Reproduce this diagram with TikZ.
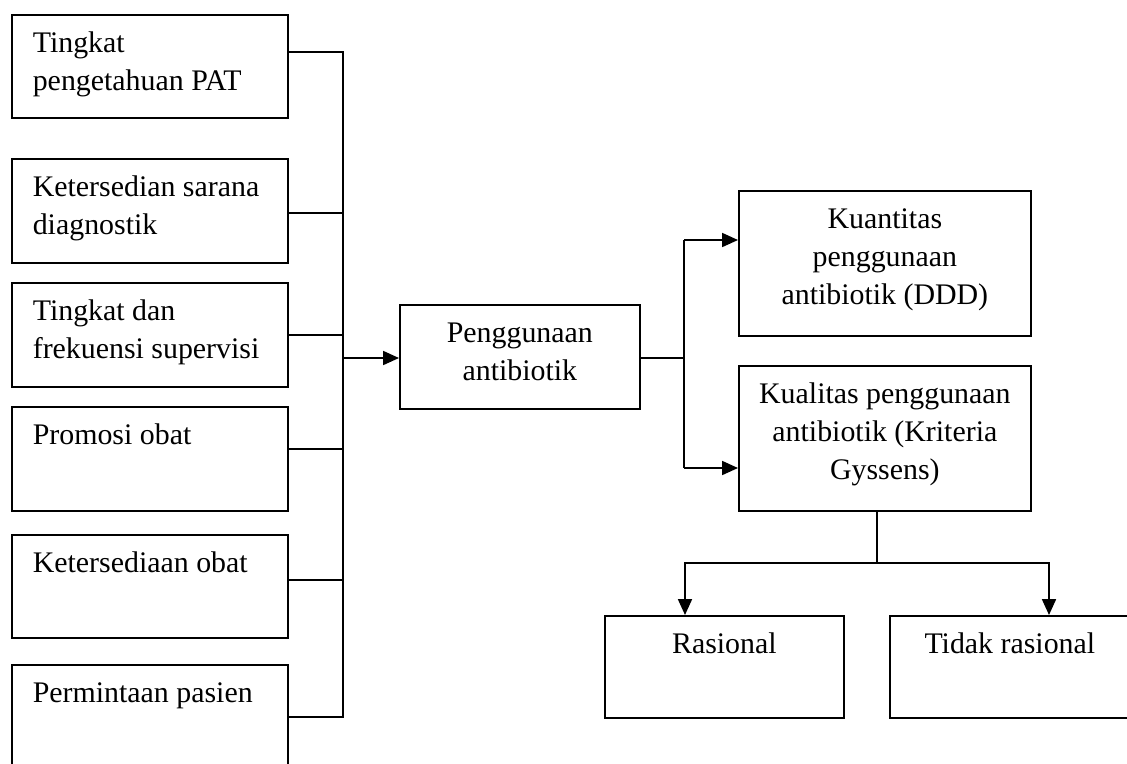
\documentclass[tikz,border=0pt]{standalone}
\usepackage{fontspec}
\setmainfont{Liberation Serif}
\usepackage{tikz}
\usetikzlibrary{arrows.meta, calc, positioning}

\newcommand{\lefttext}[2]{\parbox[t][#1][t]{97.1pt}{\raggedright\rule{0pt}{15.8pt}#2}}
\newcommand{\midtext}[3]{\parbox[t][#1][t]{#2}{\centering\rule{0pt}{15.8pt}#3}}

\begin{document}
\begin{tikzpicture}[x=0.415pt, y=-0.415pt,
  every node/.style={font=\fontsize{12.4}{15.6}\selectfont},
  lbox/.style={draw, line width=0.7pt, anchor=north west, inner xsep=8.7pt, inner ysep=0pt},
  cbox/.style={draw, line width=0.7pt, anchor=north west, inner sep=0pt},
  link/.style={line width=0.6pt},
  arr/.style={line width=0.75pt, -{Triangle[length=6.6pt, width=5.8pt]}}]
\clip (0,0) rectangle (1127,763);
\node[lbox] (pat) at (11,14) {\lefttext{42.7pt}{Tingkat\\pengetahuan PAT}};
\node[lbox] (sarana) at (11,158) {\lefttext{43.2pt}{Ketersedian sarana\\diagnostik}};
\node[lbox] (superv) at (11,282) {\lefttext{43.2pt}{Tingkat dan\\frekuensi supervisi}};
\node[lbox] (promosi) at (11,406) {\lefttext{43.2pt}{Promosi obat}};
\node[lbox] (obat) at (11,534) {\lefttext{42.7pt}{Ketersediaan obat}};
\node[lbox] (pasien) at (11,664) {\lefttext{46pt}{Permintaan pasien}};
\node[cbox] (pengg) at (399,304) {\midtext{43.2pt}{99.6pt}{Penggunaan\\antibiotik}};
\node[cbox] (kuan) at (738,190) {\midtext{60.2pt}{121.2pt}{Kuantitas\\penggunaan\\antibiotik (DDD)}};
\node[cbox] (kual) at (738,365) {\midtext{60.2pt}{121.2pt}{Kualitas penggunaan\\antibiotik (Kriteria\\Gyssens)}};
\node[cbox] (ras) at (604,615) {\midtext{42.3pt}{99.2pt}{Rasional}};
\node[cbox] (tdk) at (889,615) {\midtext{42.3pt}{99.6pt}{Tidak rasional}};
\coordinate (bus1) at (343,52);
\coordinate (bus2) at (343,213);
\coordinate (bus3) at (343,335);
\coordinate (bus4) at (343,449);
\coordinate (bus5) at (343,580);
\coordinate (bus6) at (343,717);
\coordinate (split) at (684,358);
\coordinate (sq1) at (684,240);
\coordinate (sq2) at (684,468);
\coordinate (fork) at (877,563);
\coordinate (rasin) at (685,615);
\coordinate (tdkin) at (1049,615);
\draw[link] (pat.east |- bus1) -- (bus1) -- (bus6) -- (pasien.east |- bus6);
\draw[link] (sarana.east |- bus2) -- (bus2);
\draw[link] (superv.east |- bus3) -- (bus3);
\draw[link] (promosi.east |- bus4) -- (bus4);
\draw[link] (obat.east |- bus5) -- (bus5);
\draw[arr] (bus1 |- split) -- (pengg.west |- split);
\draw[link] (pengg.east |- split) -- (split);
\draw[link] (sq1) -- (sq2);
\draw[arr] (sq1) -- (sq1 -| kuan.west);
\draw[arr] (sq2) -- (sq2 -| kual.west);
\draw[link] (kual.south -| fork) -- (fork);
\draw[arr] (fork) -| (rasin);
\draw[arr] (fork) -| (tdkin);
\end{tikzpicture}
\end{document}
